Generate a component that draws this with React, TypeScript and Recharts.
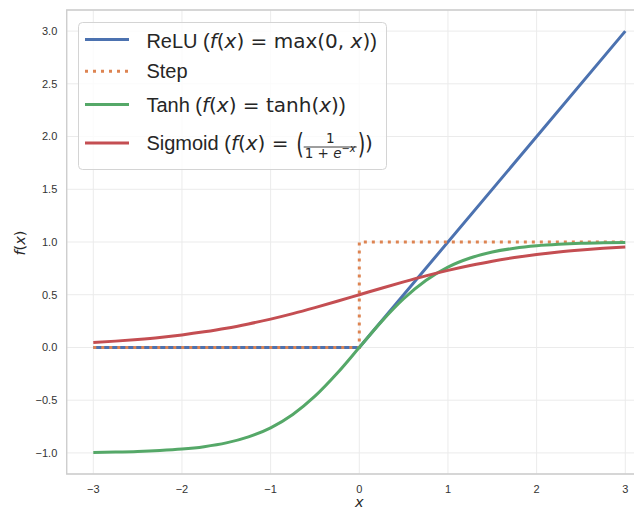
import React from 'react';
import { LineChart, Line, XAxis, YAxis, CartesianGrid, ReferenceArea, Legend } from 'recharts';

// ---- data ----
const curveX = [-3, -2.75, -2.5, -2.25, -2, -1.75, -1.5, -1.25, -1, -0.75, -0.5, -0.25, 0, 0.25, 0.5, 0.75, 1, 1.25, 1.5, 1.75, 2, 2.25, 2.5, 2.75, 3];
const tanhValues = [-0.995, -0.992, -0.987, -0.978, -0.964, -0.941, -0.905, -0.848, -0.762, -0.635, -0.462, -0.245, 0, 0.245, 0.462, 0.635, 0.762, 0.848, 0.905, 0.941, 0.964, 0.978, 0.987, 0.992, 0.995];
const sigmoidValues = [0.047, 0.06, 0.076, 0.095, 0.119, 0.148, 0.182, 0.223, 0.269, 0.321, 0.378, 0.438, 0.5, 0.562, 0.622, 0.679, 0.731, 0.777, 0.818, 0.852, 0.881, 0.905, 0.924, 0.94, 0.953];
const reluX = [-3, 0, 3];
const reluValues = [0, 0, 3];
const stepX = [-3, 0, 0, 3];
const stepValues = [0, 0, 1, 1];
const xTicks = [-3, -2, -1, 0, 1, 2, 3];
const yTicks = [-1, -0.5, 0, 0.5, 1, 1.5, 2, 2.5, 3];
const seriesNames = ['ReLU', 'Step', 'Tanh', 'Sigmoid'];
const seriesColors = ['#4C72B0', '#DD8452', '#55A868', '#C44E52'];

const toRows = (xs: number[], ys: number[]) => xs.map((x, i) => ({ x, y: ys[i] }));
const reluData = toRows(reluX, reluValues);
const stepData = toRows(stepX, stepValues);
const tanhData = toRows(curveX, tanhValues);
const sigmoidData = toRows(curveX, sigmoidValues);

const TEXT = '#262626';
const SANS = '"Liberation Sans", Arial, sans-serif';
const MATH = '"DejaVu Sans", sans-serif';

const minus = (s: string) => s.replace('-', '\u2212');

const M = ({ children, i }: { children: React.ReactNode; i?: boolean }) => (
  <tspan fontFamily={MATH} fontStyle={i ? 'italic' : 'normal'}>{children}</tspan>
);

const LegendBox = () => {
  const handleY = [17.6, 49.3, 82.6, 121];
  const baseY = [26.1, 56.3, 90, 128.3];
  const tx = 68.4;
  return (
    <svg width={310} height={150} style={{ display: 'block', overflow: 'visible' }}>
      <rect x={0.5} y={0.5} width={308} height={147} rx={4} ry={4} fill="#ffffff" fillOpacity={0.8} stroke="#d4d4d4" strokeWidth={1} />
      {seriesNames.map((n, i) => (
        <line key={n} x1={7} x2={51} y1={handleY[i]} y2={handleY[i]} stroke={seriesColors[i]} strokeWidth={3}
          strokeDasharray={i === 1 ? '3 5' : undefined} />
      ))}
      <g fill={TEXT} fontSize={20} fontFamily={SANS}>
        <text x={tx} y={baseY[0]}>
          {seriesNames[0]} (<M i>f</M><M>(</M><M i>x</M><M>) = max(0, </M><M i>x</M><M>)</M>)
        </text>
        <text x={tx} y={baseY[1]}>{seriesNames[1]}</text>
        <text x={tx} y={baseY[2]}>
          {seriesNames[2]} (<M i>f</M><M>(</M><M i>x</M><M>) = tanh(</M><M i>x</M><M>)</M>)
        </text>
        <text x={tx} y={baseY[3]}>
          {seriesNames[3]} (<M i>f</M><M>(</M><M i>x</M><M>) =</M>
        </text>
        <text fontFamily={MATH} fontSize={19.5} transform="translate(218.2,131.5) scale(1,1.45)">(</text>
        <text fontFamily={MATH} fontSize={13.5} x={252.2} y={121} textAnchor="middle">1</text>
        <line x1={225.7} x2={278.7} y1={125} y2={125} stroke={TEXT} strokeWidth={0.9} />
        <text fontFamily={MATH} fontSize={13.5} x={252.2} y={135.6} textAnchor="middle">
          1 + <tspan fontStyle="italic">e</tspan>
          <tspan fontSize={10} dy={-5.5}>{'\u2212'}</tspan><tspan fontSize={10} fontStyle="italic">x</tspan>
        </text>
        <text fontFamily={MATH} fontSize={19.5} transform="translate(279.7,131.5) scale(1,1.45)">)</text>
        <text fontFamily={MATH} x={287} y={baseY[3]}>)</text>
      </g>
    </svg>
  );
};

const YLabel = () => (
  <text x={17} y={235} transform="rotate(-90, 17, 235)" textAnchor="middle" fill={TEXT} fontSize={14.5} fontFamily={MATH}>
    <tspan fontStyle="italic">f</tspan>(<tspan fontStyle="italic">x</tspan>)
  </text>
);

const XLabel = () => (
  <text x={351.3} y={498.5} textAnchor="middle" fill={TEXT} fontSize={14.5} fontFamily={MATH} fontStyle="italic">x</text>
);

export default function App() {
  return (
    <div style={{ width: 634, height: 502, overflow: 'hidden', position: 'relative' }}>
      <LineChart width={660} height={502} margin={{ top: 2, right: 16.1, bottom: 0, left: 0 }}>
        <CartesianGrid stroke="#ebebeb" strokeWidth={1} />
        <XAxis dataKey="x" type="number" domain={[-3.3, 3.3]} ticks={xTicks} allowDataOverflow
          axisLine={false} tickLine={false} tickMargin={5} height={36}
          tick={{ fill: '#333333', fontSize: 11, fontFamily: SANS }}
          tickFormatter={(v: number) => minus(String(v))}
          label={<XLabel />} />
        <YAxis type="number" domain={[-1.2, 3.2]} ticks={yTicks} allowDataOverflow
          axisLine={false} tickLine={false} tickMargin={3.4} width={58.7}
          tick={{ fill: '#333333', fontSize: 11, fontFamily: SANS }}
          tickFormatter={(v: number) => minus(v.toFixed(1))}
          label={<YLabel />} />
        <ReferenceArea x1={-3.3} x2={3.3} y1={-1.2} y2={3.2} fill="none" fillOpacity={0} stroke="#cccccc" strokeWidth={1.3} ifOverflow="visible" />
        <Line data={reluData} dataKey="y" name={seriesNames[0]} type="linear" stroke={seriesColors[0]} strokeWidth={3} dot={false} activeDot={false} isAnimationActive={false} />
        <Line data={stepData} dataKey="y" name={seriesNames[1]} type="linear" stroke={seriesColors[1]} strokeWidth={3} strokeDasharray="3 5" dot={false} activeDot={false} isAnimationActive={false} />
        <Line data={tanhData} dataKey="y" name={seriesNames[2]} type="monotone" stroke={seriesColors[2]} strokeWidth={3} dot={false} activeDot={false} isAnimationActive={false} />
        <Line data={sigmoidData} dataKey="y" name={seriesNames[3]} type="monotone" stroke={seriesColors[3]} strokeWidth={3} dot={false} activeDot={false} isAnimationActive={false} />
        <Legend layout="vertical" align="center" verticalAlign="middle" content={() => <LegendBox />}
          wrapperStyle={{ position: 'absolute', left: 70.3, top: 13.7, width: 310, height: 150, margin: 0, padding: 0 }} />
      </LineChart>
    </div>
  );
}
